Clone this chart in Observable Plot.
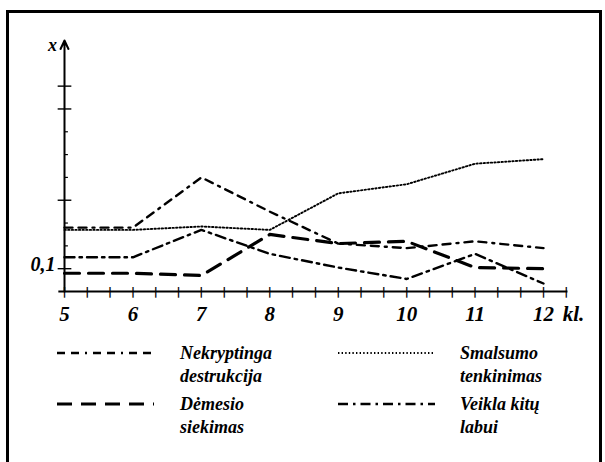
<!DOCTYPE html>
<html>
<head>
<meta charset="utf-8">
<script src="https://cdn.jsdelivr.net/npm/d3@7"></script>
<script src="https://cdn.jsdelivr.net/npm/@observablehq/plot@0.6"></script>
<style>
  html, body { margin: 0; padding: 0; background: #fff; width: 605px; height: 462px; overflow: hidden; }
  #frame { position: absolute; left: 6px; top: 10px; width: 590px; height: 520px; border: 3px solid #000; }
  #chart { position: absolute; left: 0; top: 0; }
  #legend { position: absolute; left: 0; top: 330px; width: 605px; height: 132px; }
  .lab { position: absolute; font-family: "Liberation Serif", "DejaVu Serif", serif; font-style: italic; font-weight: bold; font-size: 18px; line-height: 23px; color: #000; white-space: nowrap; }
</style>
</head>
<body>
<div id="frame"></div>
<div id="chart"></div>
<div id="legend"></div>
<script>
// ---- data ----
const grades = [5, 6, 7, 8, 9, 10, 11, 12];
const nekryptinga = [0.28, 0.28, 0.50, 0.35, 0.21, 0.19, 0.22, 0.19];
const smalsumo    = [0.27, 0.27, 0.285, 0.27, 0.43, 0.47, 0.56, 0.58];
const demesio     = [0.08, 0.08, 0.07, 0.25, 0.21, 0.22, 0.105, 0.10];
const veikla      = [0.15, 0.15, 0.27, 0.165, 0.105, 0.055, 0.165, 0.035];
const seriesLabels = [
  ["Nekryptinga", "destrukcija"],
  ["Smalsumo", "tenkinimas"],
  ["Dėmesio", "siekimas"],
  ["Veikla kitų", "labui"]
];
const xTickLabels = ["5", "6", "7", "8", "9", "10", "11", "12"];
const xUnitLabel = "kl.";
const yAxisLabel = "x";
const yTickValues = [0.1];
const yTickLabels = ["0,1"];
const yMajorTicks = [0.1, 0.4, 0.8, 0.9];
const yMinorTicks = [0.2, 0.3, 0.5, 0.6, 0.7];

// ---- styles (not data) ----
const styles = [
  {dash: "8,6,8,6,2,6", width: 2.4},
  {dash: "1.4,2.2", width: 1.9},
  {dash: "15,9", width: 3.2},
  {dash: "10,5,2.5,5", width: 2.4}
];
const values = [nekryptinga, smalsumo, demesio, veikla];
const series = values.map((vals, i) => grades.map((g, j) => ({grade: g, value: vals[j]})));

const xMin = 4.91, xMax = 12.35, yTop = 1.1;
const xTickMarks = d3.range(0, 23).map(k => ({x: 5 + k / 3, y: 0}));
const yMajorMarks = yMajorTicks.map(v => ({y: v, x1: 4.9, x2: 5.1}));
const yMinorMarks = yMinorTicks.map(v => ({y: v, x1: 5, x2: 5.05}));
const font = "Liberation Serif, DejaVu Serif, serif";
const txt = {fontWeight: "bold", fontStyle: "italic", fontFamily: font, fill: "#000"};

const chart = Plot.plot({
  width: 605,
  height: 330,
  marginLeft: 64,
  marginRight: 62,
  marginTop: 40,
  marginBottom: 39,
  x: {domain: [5, 12], axis: null},
  y: {domain: [0, yTop], axis: null},
  style: {background: "transparent", overflow: "visible"},
  marks: [
    // x axis line
    Plot.link([{y: 0, x1: xMin, x2: xMax}], {y1: "y", y2: "y", x1: "x1", x2: "x2", stroke: "#000", strokeWidth: 2}),
    // x ticks: short vertical strokes crossing the axis
    Plot.text(xTickMarks, {x: "x", y: "y", text: () => "|", fontSize: 11, fontWeight: "bold", fontFamily: "DejaVu Sans", fill: "#000"}),
    // y axis with arrow
    Plot.arrow([{x: 5, y1: 0, y2: yTop}], {x1: "x", x2: "x", y1: "y1", y2: "y2", stroke: "#000", strokeWidth: 2, headLength: 7, headAngle: 50}),
    // y ticks
    Plot.link(yMajorMarks, {y1: "y", y2: "y", x1: "x1", x2: "x2", stroke: "#000", strokeWidth: 1.4}),
    Plot.link(yMinorMarks, {y1: "y", y2: "y", x1: "x1", x2: "x2", stroke: "#000", strokeWidth: 1.2}),
    // series lines
    ...series.map((d, i) => Plot.line(d, {
      x: "grade", y: "value", stroke: "#000",
      strokeWidth: styles[i].width, strokeDasharray: styles[i].dash
    })),
    // x tick labels
    Plot.text(grades.map((g, i) => ({x: g, y: 0, t: xTickLabels[i]})), {x: "x", y: "y", dy: 23, text: "t", fontSize: 21, ...txt}),
    Plot.text([{x: 12.28, y: 0, t: xUnitLabel}], {x: "x", y: "y", dy: 23, text: "t", textAnchor: "start", fontSize: 21, ...txt}),
    // y tick label
    Plot.text(yTickValues.map((v, i) => ({x: 5, y: v, t: yTickLabels[i]})), {x: "x", y: "y", dx: -9, dy: -4, text: "t", textAnchor: "end", fontSize: 20, ...txt}),
    // y axis label
    Plot.text([{x: 5, y: 1.08, t: yAxisLabel}], {x: "x", y: "y", dx: -12, text: "t", fontSize: 18, ...txt})
  ]
});
document.getElementById("chart").appendChild(chart);

// ---- legend (below the chart) ----
const legend = document.getElementById("legend");
const colSample = [57, 338], colText = [180, 460], rowY = [23, 74];
seriesLabels.forEach((lab, i) => {
  const col = i % 2, row = Math.floor(i / 2);
  const svg = d3.create("svg").attr("width", 100).attr("height", 10)
    .style("position", "absolute").style("left", colSample[col] + "px").style("top", (rowY[row] - 5) + "px");
  svg.append("line").attr("x1", 0).attr("x2", 97).attr("y1", 5).attr("y2", 5)
    .attr("stroke", "#000").attr("stroke-width", styles[i].width).attr("stroke-dasharray", styles[i].dash);
  legend.appendChild(svg.node());
  const t = document.createElement("div");
  t.className = "lab";
  t.style.left = colText[col] + "px";
  t.style.top = (rowY[row] - 11.5) + "px";
  t.innerHTML = lab.join("<br>");
  legend.appendChild(t);
});
</script>
</body>
</html>
